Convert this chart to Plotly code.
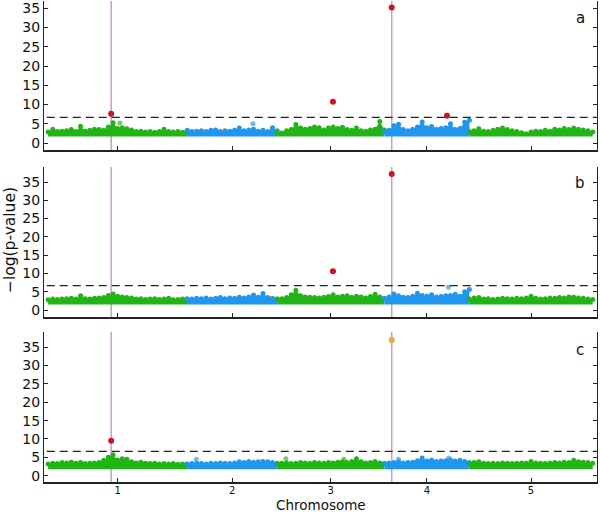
import plotly.graph_objects as go

# ---------------- data ----------------
CHROM_NAMES = ["1", "2", "3", "4", "5"]
CHROM_LENGTHS_MB = [30.43, 19.70, 23.46, 18.59, 26.98]
CHROM_COLORS = ["#22b416", "#2196ee", "#22b416", "#2196ee", "#22b416"]

PANEL_LABELS = ["a", "b", "c"]
CLOUD_FLOOR = [1.7, 1.5, 1.8]          # lowest -log(p) shown in each panel
THRESHOLD = 6.65                        # genome-wide significance

# upper envelope of the background markers, one value per ~1 Mb, per chromosome
A_CHR1 = [2.9, 3.6, 3.0, 3.1, 3.2, 3.5, 3.0, 4.4, 3.1, 3.3, 3.6, 3.5, 3.3, 4.2, 5.3, 3.8,
          4.0, 3.7, 3.4, 3.0, 3.1, 2.9, 3.0, 2.8, 3.0, 3.6, 3.0, 2.9, 3.0, 2.8, 2.9]
A_CHR2 = [3.3, 3.0, 3.1, 3.2, 3.0, 3.3, 3.4, 3.0, 3.2, 3.1, 3.3, 3.9, 3.2, 3.4, 3.6, 3.1,
          3.3, 3.0, 4.0, 3.2]
A_CHR3 = [2.8, 2.6, 3.2, 3.5, 4.8, 3.9, 3.6, 3.8, 4.2, 4.0, 3.4, 3.9, 4.2, 3.8, 4.1, 3.5,
          3.3, 3.9, 3.2, 3.1, 3.4, 3.6, 5.6, 3.4]
A_CHR4 = [3.0, 3.3, 4.5, 4.9, 3.5, 3.2, 3.6, 4.2, 5.5, 4.0, 4.3, 3.6, 3.8, 4.0, 5.0, 3.5,
          3.8, 5.4, 5.9]
A_CHR5 = [3.0, 3.2, 3.7, 3.1, 3.0, 3.3, 3.6, 3.9, 3.5, 3.2, 3.0, 2.7, 2.4, 2.9, 3.1, 3.0,
          3.3, 3.1, 3.6, 3.4, 3.8, 3.5, 3.9, 3.6, 3.4, 3.2, 2.9]

B_CHR1 = [2.8, 3.0, 2.9, 3.0, 3.1, 3.2, 3.0, 3.9, 3.1, 3.0, 3.2, 3.3, 3.4, 4.0, 4.4, 3.8,
          3.6, 3.4, 3.3, 3.0, 3.1, 2.9, 3.0, 3.1, 2.9, 3.0, 3.2, 2.8, 2.9, 3.0, 2.8]
B_CHR2 = [3.1, 3.0, 3.2, 3.1, 3.3, 3.0, 3.2, 3.4, 3.1, 3.3, 3.2, 3.5, 3.3, 3.6, 4.1, 3.5,
          4.5, 3.4, 3.2, 3.0]
B_CHR3 = [3.0, 3.1, 3.4, 4.2, 5.4, 3.9, 3.6, 3.5, 3.4, 3.3, 3.5, 3.7, 4.2, 3.6, 3.8, 3.9,
          3.5, 3.8, 3.6, 3.3, 3.7, 4.3, 3.6, 3.2]
B_CHR4 = [3.1, 3.6, 4.4, 3.9, 3.5, 3.4, 3.8, 4.6, 4.0, 3.8, 4.2, 3.6, 3.7, 3.9, 4.0, 4.3,
          3.8, 5.0, 5.6]
B_CHR5 = [3.0, 3.3, 3.4, 3.0, 3.1, 2.9, 3.0, 3.2, 3.1, 3.0, 3.2, 3.1, 3.3, 3.8, 3.2, 3.0,
          3.1, 3.3, 3.2, 3.4, 3.3, 3.6, 3.5, 3.3, 3.2, 3.0, 2.9]

C_CHR1 = [3.2, 3.4, 3.3, 3.6, 3.5, 3.7, 3.4, 3.6, 3.3, 3.4, 3.5, 3.6, 4.2, 5.0, 5.7, 4.3,
          4.6, 4.5, 3.8, 3.5, 3.7, 3.4, 3.3, 3.4, 3.2, 3.3, 3.2, 3.3, 3.1, 3.2, 3.1]
C_CHR2 = [3.2, 3.3, 3.4, 3.3, 3.2, 3.4, 3.3, 3.5, 3.4, 3.3, 3.5, 3.8, 3.6, 3.9, 3.7, 3.8,
          3.9, 3.8, 3.6, 3.4]
C_CHR3 = [3.3, 3.4, 3.5, 3.3, 3.4, 3.6, 3.5, 3.4, 3.6, 3.5, 3.4, 3.6, 3.5, 3.7, 3.8, 3.6,
          3.9, 4.6, 3.8, 3.5, 3.6, 3.9, 3.5, 3.3]
C_CHR4 = [3.3, 3.5, 3.6, 3.8, 3.5, 3.6, 3.7, 4.1, 4.8, 4.0, 4.2, 3.9, 4.0, 4.1, 4.3, 4.0,
          4.2, 3.9, 3.6]
C_CHR5 = [3.3, 3.6, 3.8, 3.4, 3.3, 3.4, 3.3, 3.5, 3.4, 3.3, 3.4, 3.5, 3.4, 3.9, 3.5, 3.4,
          3.3, 3.5, 3.6, 3.5, 3.7, 3.6, 4.2, 3.8, 3.7, 3.6, 3.4]

ENVELOPES = [
    [A_CHR1, A_CHR2, A_CHR3, A_CHR4, A_CHR5],
    [B_CHR1, B_CHR2, B_CHR3, B_CHR4, B_CHR5],
    [C_CHR1, C_CHR2, C_CHR3, C_CHR4, C_CHR5],
]

# isolated background markers standing above the cloud (chromosome, Mb, -log p)
STRAY_A_CHR = [1, 2]
STRAY_A_POS = [15.7, 14.4]
STRAY_A_VAL = [5.2, 5.0]
STRAY_B_CHR = [4]
STRAY_B_POS = [14.0]
STRAY_B_VAL = [6.2]
STRAY_C_CHR = [2, 3, 3, 4, 4]
STRAY_C_POS = [2.0, 1.9, 14.6, 3.1, 14.1]
STRAY_C_VAL = [4.5, 4.6, 4.5, 4.5, 4.8]

# significant associations
HITS_A_CHR = [1, 3, 4, 4]
HITS_A_POS = [13.8, 12.2, 1.6, 13.7]
HITS_A_VAL = [7.6, 10.7, 35.2, 7.1]
HITS_A_KIND = ["sig", "sig", "sig", "sig"]
HITS_B_CHR = [3, 4]
HITS_B_POS = [12.2, 1.6]
HITS_B_VAL = [10.6, 37.2]
HITS_B_KIND = ["sig", "sig"]
HITS_C_CHR = [1, 4]
HITS_C_POS = [13.8, 1.6]
HITS_C_VAL = [9.5, 36.9]
HITS_C_KIND = ["sig", "known"]

STRAYS = [(STRAY_A_CHR, STRAY_A_POS, STRAY_A_VAL),
          (STRAY_B_CHR, STRAY_B_POS, STRAY_B_VAL),
          (STRAY_C_CHR, STRAY_C_POS, STRAY_C_VAL)]
HITS = [(HITS_A_CHR, HITS_A_POS, HITS_A_VAL, HITS_A_KIND),
        (HITS_B_CHR, HITS_B_POS, HITS_B_VAL, HITS_B_KIND),
        (HITS_C_CHR, HITS_C_POS, HITS_C_VAL, HITS_C_KIND)]

# candidate loci marked by vertical lines
CAND_CHR = [1, 4]
CAND_POS = [13.8, 1.6]

Y_TICKS = [0, 5, 10, 15, 20, 25, 30, 35]
Y_RANGES = [[-1.8, 36.9], [-1.9, 39.1], [-1.7, 39.1]]

HIT_COLORS = {"sig": "#cc1424", "known": "#f2a540"}
CAND_COLOR = "#c99ccc"

# ---------------- derived genome coordinates ----------------
offsets = []
acc = 0.0
for L in CHROM_LENGTHS_MB:
    offsets.append(acc)
    acc += L
genome_end = acc
centers = [o + L / 2 for o, L in zip(offsets, CHROM_LENGTHS_MB)]


def gpos(chrom, mb):
    return offsets[chrom - 1] + mb


# ---------------- figure ----------------
FONT = "DejaVu Sans"
fig = go.Figure()

H_PLOT = 481.0
# panel pixel spans (top, bottom) measured from top of plotting area
PANEL_PX = [(0, 149), (166, 316), (331, 481)]
domains = [[(H_PLOT - b) / H_PLOT, (H_PLOT - t) / H_PLOT] for t, b in PANEL_PX]

for p in range(3):
    xa = "x" if p == 0 else f"x{p+1}"
    ya = "y" if p == 0 else f"y{p+1}"
    # background clouds
    for c in range(5):
        vals = ENVELOPES[p][c]
        n = len(vals)
        L = CHROM_LENGTHS_MB[c]
        xs = [offsets[c] + i * L / (n - 1) for i in range(n)]
        floor = [CLOUD_FLOOR[p]] * n
        fig.add_trace(go.Scatter(
            x=xs + xs[::-1], y=vals + floor, fill="toself", mode="lines",
            fillcolor=CHROM_COLORS[c], line=dict(width=0, color=CHROM_COLORS[c]),
            xaxis=xa, yaxis=ya, showlegend=False, hoverinfo="skip"))
        fig.add_trace(go.Scatter(
            x=xs, y=vals, mode="markers",
            marker=dict(size=5, color=CHROM_COLORS[c]),
            xaxis=xa, yaxis=ya, showlegend=False, hoverinfo="skip"))
    # stray markers
    sc, sp, sv = STRAYS[p]
    fig.add_trace(go.Scatter(
        x=[gpos(c, m) for c, m in zip(sc, sp)], y=sv, mode="markers",
        marker=dict(size=5, color=[CHROM_COLORS[c - 1] for c in sc], opacity=0.65),
        xaxis=xa, yaxis=ya, showlegend=False, hoverinfo="skip"))
    # hits
    hc, hp, hv, hk = HITS[p]
    fig.add_trace(go.Scatter(
        x=[gpos(c, m) for c, m in zip(hc, hp)], y=hv, mode="markers",
        marker=dict(size=6, color=[HIT_COLORS[k] for k in hk]),
        xaxis=xa, yaxis=ya, showlegend=False))
    # candidate lines
    for c, m in zip(CAND_CHR, CAND_POS):
        fig.add_shape(type="line", xref=xa, yref=f"{ya} domain",
                      x0=gpos(c, m), x1=gpos(c, m), y0=0, y1=1,
                      line=dict(color=CAND_COLOR, width=1.5), layer="below")
    # threshold
    fig.add_shape(type="line", xref=f"{xa} domain", yref=ya,
                  x0=0.005, x1=1, y0=THRESHOLD, y1=THRESHOLD,
                  line=dict(color="#222222", width=1.3, dash="8px,5px"))

    xkey = "xaxis" if p == 0 else f"xaxis{p+1}"
    ykey = "yaxis" if p == 0 else f"yaxis{p+1}"
    fig.update_layout(**{
        xkey: dict(domain=[0, 1], anchor=ya, range=[-0.9, genome_end + 0.95],
                   showline=True, linecolor="#222222", linewidth=1.5,
                   ticks="inside", ticklen=4, tickcolor="#222222",
                   tickvals=centers, ticktext=CHROM_NAMES, automargin=False,
                   showticklabels=(p == 2), tickfont=dict(size=10, color="#111"),
                   ticklabelstandoff=-2,
                   showgrid=False, zeroline=False),
        ykey: dict(domain=domains[p], anchor=xa, range=Y_RANGES[p],
                   showline=True, linecolor="#222222", linewidth=1.2, mirror="ticks",
                   ticks="inside", ticklen=4, tickcolor="#222222", automargin=False,
                   tickvals=Y_TICKS, tickfont=dict(size=14, color="#111"),
                   showgrid=False, zeroline=False),
    })

annotations = []
label_y = [0.965, 0.622, 0.274]
for lab, yy in zip(PANEL_LABELS, label_y):
    annotations.append(dict(text=lab, x=0.97, y=yy, xref="paper", yref="paper",
                            xanchor="center", yanchor="middle",
                            showarrow=False, font=dict(size=15, color="#111")))
annotations.append(dict(text="−log(p-value)", x=-0.0615, y=0.503, xref="paper", yref="paper",
                        xanchor="center", yanchor="middle",
                        textangle=-90, showarrow=False, font=dict(size=15.5, color="#111")))
annotations.append(dict(text="Chromosome", x=0.5, y=-0.047, xref="paper", yref="paper",
                        xanchor="center", yanchor="middle",
                        showarrow=False, font=dict(size=13.5, color="#111")))

fig.update_layout(
    width=600, height=512,
    margin=dict(l=44, r=3, t=1, b=30, autoexpand=False),
    paper_bgcolor="white", plot_bgcolor="white",
    font=dict(family=FONT),
    annotations=annotations,
    showlegend=False,
)

fig.write_html("out.html", config={"displayModeBar": False},
               post_script="document.body.style.margin='0px';"
                           "document.body.style.overflow='hidden';")
